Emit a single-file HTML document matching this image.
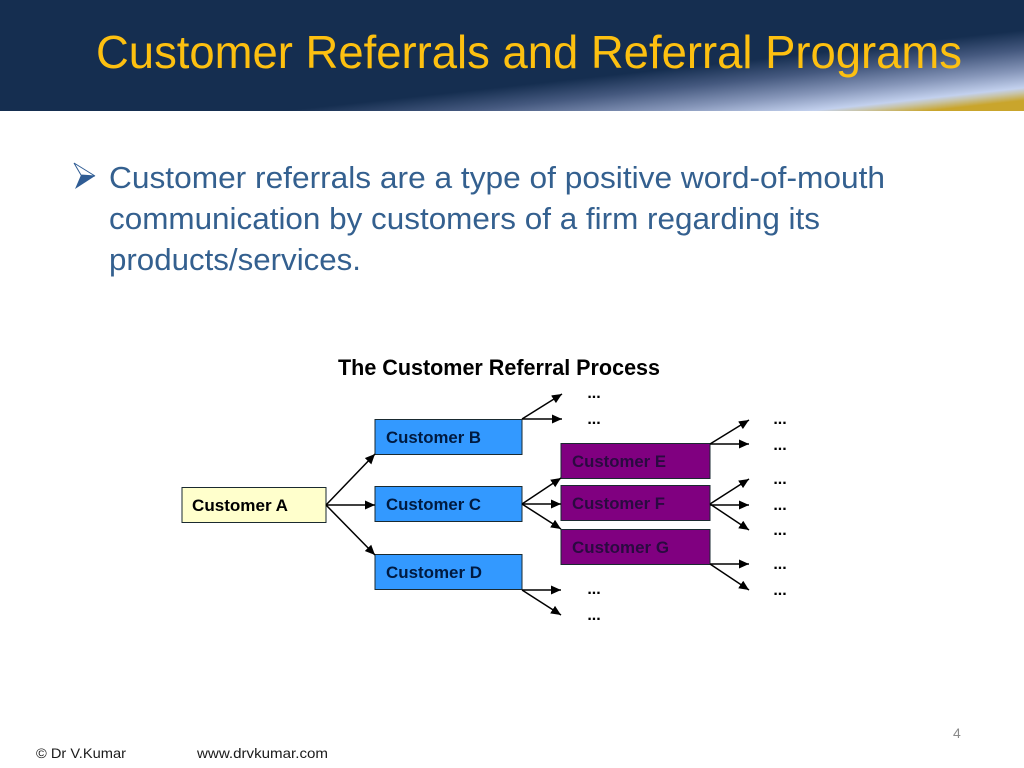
<!DOCTYPE html>
<html>
<head>
<meta charset="utf-8">
<style>
html,body{margin:0;padding:0;background:#fff;width:1024px;height:768px;overflow:hidden}
svg{display:block}
text{font-family:"Liberation Sans",sans-serif}
</style>
</head>
<body>
<svg width="1024" height="768" viewBox="0 0 1024 768" xmlns="http://www.w3.org/2000/svg">
<defs>
<linearGradient id="sw" gradientUnits="userSpaceOnUse" x1="1024" y1="30" x2="1031.6" y2="99.6">
<stop offset="0" stop-color="#152e50"/>
<stop offset="0.28" stop-color="#45597f"/>
<stop offset="0.58" stop-color="#8797ba"/>
<stop offset="0.82" stop-color="#c3d1ee"/>
<stop offset="0.89" stop-color="#c8c4a8"/>
<stop offset="1" stop-color="#c9a52c"/>
</linearGradient>
<marker id="a" markerUnits="userSpaceOnUse" markerWidth="11" markerHeight="10" refX="10" refY="4.5" orient="auto">
<path d="M0,0 L10,4.5 L0,9 Z" fill="#000"/>
</marker>
</defs>

<rect x="0" y="0" width="1024" height="111" fill="url(#sw)"/>

<text x="96" y="68" font-size="46" fill="#fdc010" textLength="866" lengthAdjust="spacingAndGlyphs">Customer Referrals and Referral Programs</text>

<path d="M74,163 L95,176 L75,189 L81,175 Z" fill="#2f5c94"/>
<path d="M74,163 L95,176 L81,175 Z" fill="#fff" stroke="#2f5c94" stroke-width="1"/>
<g font-size="30.5" fill="#34608f">
<text x="109" y="188" textLength="776" lengthAdjust="spacingAndGlyphs">Customer referrals are a type of positive word-of-mouth</text>
<text x="109" y="229" textLength="711" lengthAdjust="spacingAndGlyphs">communication by customers of a firm regarding its</text>
<text x="109" y="270" textLength="252" lengthAdjust="spacingAndGlyphs">products/services.</text>
</g>

<text x="338" y="375" font-size="22" font-weight="bold" fill="#000" textLength="322" lengthAdjust="spacingAndGlyphs">The Customer Referral Process</text>

<g stroke="#1a2a30" stroke-width="1">
<rect x="182" y="487.5" width="144" height="35" fill="#ffffcc"/>
<rect x="375" y="419.5" width="147" height="35" fill="#3399ff"/>
<rect x="375" y="486.5" width="147" height="35" fill="#3399ff"/>
<rect x="375" y="554.5" width="147" height="35" fill="#3399ff"/>
<rect x="561" y="443.5" width="149" height="35" fill="#800080"/>
<rect x="561" y="485.5" width="149" height="35" fill="#800080"/>
<rect x="561" y="529.5" width="149" height="35" fill="#800080"/>
</g>

<g font-size="17" font-weight="bold">
<text x="192" y="511" fill="#000" textLength="96" lengthAdjust="spacingAndGlyphs">Customer A</text>
<g fill="#001a40">
<text x="386" y="443" textLength="95" lengthAdjust="spacingAndGlyphs">Customer B</text>
<text x="386" y="510" textLength="95" lengthAdjust="spacingAndGlyphs">Customer C</text>
<text x="386" y="578" textLength="96" lengthAdjust="spacingAndGlyphs">Customer D</text>
</g>
<g fill="#2a0a40">
<text x="572" y="467" textLength="94" lengthAdjust="spacingAndGlyphs">Customer E</text>
<text x="572" y="509" textLength="93" lengthAdjust="spacingAndGlyphs">Customer F</text>
<text x="572" y="553" textLength="97" lengthAdjust="spacingAndGlyphs">Customer G</text>
</g>
</g>

<g stroke="#000" stroke-width="1.5" fill="none" marker-end="url(#a)">
<line x1="326" y1="505" x2="375" y2="454"/>
<line x1="326" y1="505" x2="375" y2="505"/>
<line x1="326" y1="505" x2="375" y2="555"/>
<line x1="522" y1="419" x2="562" y2="394"/>
<line x1="522" y1="419" x2="562" y2="419"/>
<line x1="522" y1="504" x2="561" y2="478"/>
<line x1="522" y1="504" x2="561" y2="504"/>
<line x1="522" y1="504" x2="561" y2="529"/>
<line x1="522" y1="590" x2="561" y2="590"/>
<line x1="522" y1="590" x2="561" y2="615"/>
<line x1="710" y1="444" x2="749" y2="420"/>
<line x1="710" y1="444" x2="749" y2="444"/>
<line x1="710" y1="504" x2="749" y2="479"/>
<line x1="710" y1="505" x2="749" y2="505"/>
<line x1="710" y1="504" x2="749" y2="530"/>
<line x1="710" y1="564" x2="749" y2="564"/>
<line x1="710" y1="564" x2="749" y2="590"/>
</g>

<g font-size="16" font-weight="bold" fill="#000" text-anchor="middle">
<text x="594" y="398">...</text>
<text x="594" y="424">...</text>
<text x="594" y="594">...</text>
<text x="594" y="620">...</text>
<text x="780" y="424">...</text>
<text x="780" y="450">...</text>
<text x="780" y="484">...</text>
<text x="780" y="510">...</text>
<text x="780" y="535">...</text>
<text x="780" y="569">...</text>
<text x="780" y="595">...</text>
</g>

<text x="953" y="738" font-size="14" fill="#8a8a8a">4</text>
<text x="36" y="758" font-size="14" fill="#1a1a1a" textLength="90" lengthAdjust="spacingAndGlyphs">© Dr V.Kumar</text>
<text x="197" y="758" font-size="14" fill="#1a1a1a" textLength="131" lengthAdjust="spacingAndGlyphs">www.drvkumar.com</text>
</svg>
</body>
</html>
